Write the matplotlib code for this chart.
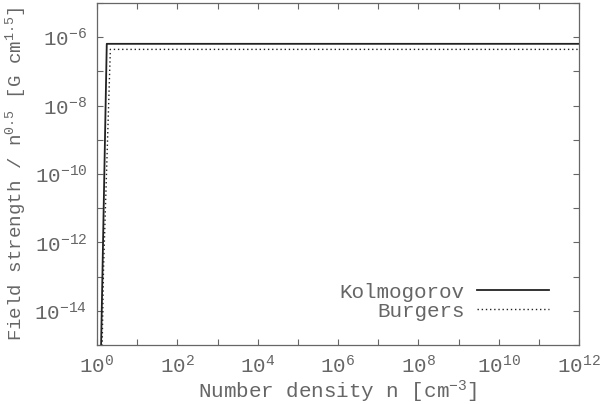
import math
import matplotlib
matplotlib.use("Agg")
import matplotlib.pyplot as plt
from matplotlib.ticker import FixedLocator, NullFormatter, FuncFormatter

plt.rcParams['font.family'] = ['Liberation Mono', 'DejaVu Sans Mono']
plt.rcParams['mathtext.fontset'] = 'custom'
plt.rcParams['mathtext.rm'] = 'Liberation Mono'
plt.rcParams['mathtext.it'] = 'Liberation Mono:italic'

# data
kolmo_n = [1.22, 1.75, 1e12]
kolmo_B = [1e-16, 6.4e-7, 6.4e-7]
burg_n = [1.3, 1.45, 2.15, 1e12]
burg_B = [1e-16, 1.5e-13, 4.4e-7, 4.4e-7]
series_labels = ["Kolmogorov", "Burgers"]
x_ticks = [1e0, 1e2, 1e4, 1e6, 1e8, 1e10, 1e12]
y_ticks = [1e-14, 1e-12, 1e-10, 1e-8, 1e-6]

grey = '#666666'
fig = plt.figure(figsize=(6.0, 4.04), dpi=100)
ax = fig.add_axes([97/600, 1-345/404, (579-97)/600, (345-3)/404])
ax.set_xscale('log'); ax.set_yscale('log')
ax.set_xlim(1, 1e12); ax.set_ylim(1e-15, 1e-5)

ax.plot(kolmo_n, kolmo_B, color='#222222', lw=1.3, ls='-', label=series_labels[0])
ax.plot(burg_n, burg_B, color='#222222', lw=1.0, ls=(0, (1, 2)), label=series_labels[1])

def fmt(v, pos):
    e = int(round(math.log10(v)))
    return r'$\mathregular{10^{%d}}$' % e

ax.xaxis.set_major_locator(FixedLocator(x_ticks))
ax.xaxis.set_minor_locator(FixedLocator([10.0**k for k in range(1, 12, 2)]))
ax.yaxis.set_major_locator(FixedLocator(y_ticks))
ax.yaxis.set_minor_locator(FixedLocator([10.0**k for k in range(-15, -4, 2)]))
ax.xaxis.set_major_formatter(FuncFormatter(fmt))
ax.yaxis.set_major_formatter(FuncFormatter(fmt))
ax.xaxis.set_minor_formatter(NullFormatter())
ax.yaxis.set_minor_formatter(NullFormatter())
ax.tick_params(which='both', direction='in', top=True, right=True, length=4,
               width=0.8, color=grey, labelcolor=grey, labelsize=15, pad=7)
for s in ax.spines.values():
    s.set_color(grey); s.set_linewidth(0.9)

ax.set_xlabel(r'Number density n [cm$\mathregular{^{-3}}$]', fontsize=15, color=grey, labelpad=1)
ax.set_ylabel(r'Field strength / n$\mathregular{^{0.5}}$ [G cm$\mathregular{^{1.5}}$]', fontsize=13.8, color=grey, labelpad=5)

leg = ax.legend(loc='lower right', frameon=False, markerfirst=False, fontsize=15,
                handlelength=3.45, handletextpad=0.58, labelspacing=0.0,
                bbox_to_anchor=(0.976, 0.016))
for t in leg.get_texts():
    t.set_color(grey)

fig.savefig('out.png', dpi=100)
